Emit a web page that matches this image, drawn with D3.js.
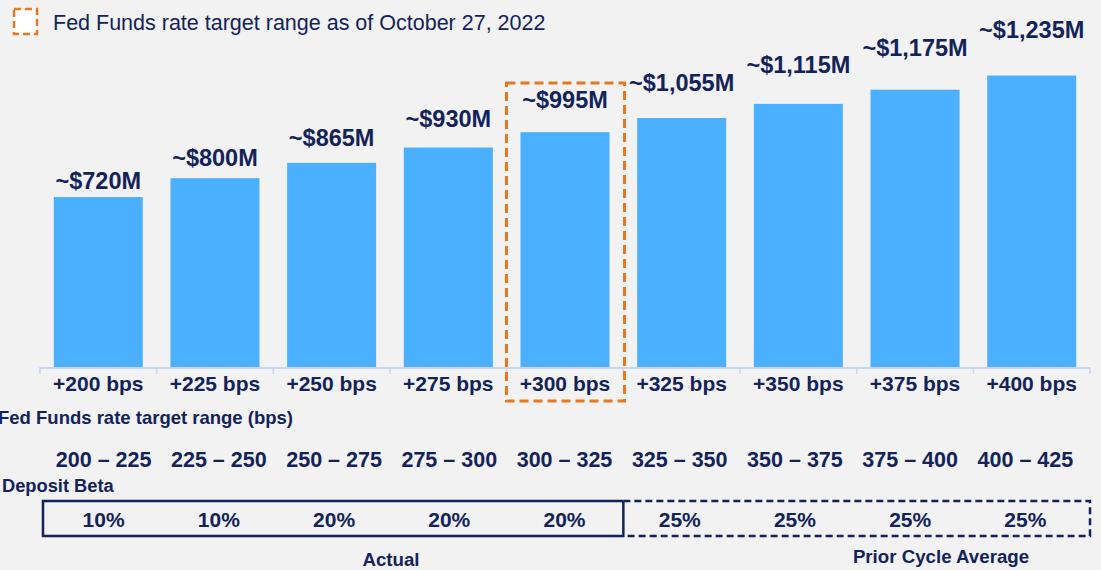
<!DOCTYPE html>
<meta charset="utf-8">
<style>
body { margin: 0; background: #f2f2f2; }
svg { display: block; font-family: Arial, "Liberation Sans", sans-serif; }
.lbl { fill: #13235a; font-weight: bold; }
</style>
<svg width="1101" height="570"></svg>
<script src="https://d3js.org/d3.v7.min.js"></script>
<script>

var hikes = ["+200 bps", "+225 bps", "+250 bps", "+275 bps", "+300 bps", "+325 bps", "+350 bps", "+375 bps", "+400 bps"];
var benefit = [720, 800, 865, 930, 995, 1055, 1115, 1175, 1235];
var ranges = ["200 – 225", "225 – 250", "250 – 275", "275 – 300", "300 – 325", "325 – 350", "350 – 375", "375 – 400", "400 – 425"];
var betas = ["10%", "10%", "20%", "20%", "20%", "25%", "25%", "25%", "25%"];
var actualCount = 5;       // first five betas are actual, the rest prior cycle average
var currentHike = "+300 bps";

var navy = "#13235a",
    orange = "#e87722",
    barColor = "#4ab0ff";

var svg = d3.select("svg");

var x = d3.scaleBand()
    .domain(hikes)
    .range([40, 1090])
    .paddingInner(0.237)
    .paddingOuter(0.118);

// rows below the chart sit a little to the right of the bars
var xRow = d3.scaleBand()
    .domain(hikes)
    .range([46, 1083]);

var y = d3.scaleLinear()
    .domain([0, 1250])
    .range([367, 72]);

// value labels climb faster than the bars do
var yLabel = d3.scaleLinear()
    .domain(d3.extent(benefit))
    .range([189, 38]);

var fmt = function(v) { return "~$" + d3.format(",")(v) + "M"; };

// bars
svg.append("g")
  .selectAll("rect")
  .data(benefit)
  .enter().append("rect")
    .attr("x", function(d, i) { return x(hikes[i]); })
    .attr("y", function(d) { return y(d); })
    .attr("width", x.bandwidth())
    .attr("height", function(d) { return y(0) - y(d); })
    .attr("fill", barColor);

svg.append("g")
  .selectAll("text")
  .data(benefit)
  .enter().append("text")
    .attr("class", "lbl")
    .attr("x", function(d, i) { return x(hikes[i]) + x.bandwidth() / 2; })
    .attr("y", function(d) { return yLabel(d); })
    .attr("text-anchor", "middle")
    .style("font-size", "23.5px")
    .text(fmt);

// axis line with ticks at band edges
var axis = svg.append("g");
axis.append("line")
    .attr("x1", 40).attr("x2", 1090)
    .attr("y1", 368).attr("y2", 368)
    .attr("stroke", "#c6d6f2").attr("stroke-width", 2);
axis.selectAll(".tk")
  .data(hikes.concat(["end"]))
  .enter().append("line")
    .attr("x1", function(d, i) { return 40 + i * x.step(); })
    .attr("x2", function(d, i) { return 40 + i * x.step(); })
    .attr("y1", 367).attr("y2", 374)
    .attr("stroke", "#c6d6f2").attr("stroke-width", 1.5);

axis.selectAll("text")
  .data(hikes)
  .enter().append("text")
    .attr("class", "lbl")
    .attr("x", function(d) { return x(d) + x.bandwidth() / 2; })
    .attr("y", 391)
    .attr("text-anchor", "middle")
    .style("font-size", "21px")
    .text(function(d) { return d; });

// highlight current range
var hx = x(currentHike);
svg.append("rect")
    .attr("x", hx - 14)
    .attr("y", 83)
    .attr("width", x.bandwidth() + 29)
    .attr("height", 318)
    .attr("fill", "none")
    .attr("stroke", orange)
    .attr("stroke-width", 3)
    .attr("stroke-dasharray", "9,5");

// legend
svg.append("rect")
    .attr("x", 14).attr("y", 9)
    .attr("width", 23).attr("height", 25)
    .attr("fill", "#fff")
    .attr("stroke", orange)
    .attr("stroke-width", 2.5)
    .attr("stroke-dasharray", "7,4");
svg.append("text")
    .attr("x", 53).attr("y", 30)
    .attr("fill", navy)
    .style("font-size", "21.5px")
    .text("Fed Funds rate target range as of October 27, 2022");

// rate range row
svg.append("text")
    .attr("class", "lbl")
    .attr("x", -2).attr("y", 424)
    .style("font-size", "18.5px")
    .text("Fed Funds rate target range (bps)");

svg.append("g")
  .selectAll("text")
  .data(ranges)
  .enter().append("text")
    .attr("class", "lbl")
    .attr("x", function(d, i) { return xRow(hikes[i]) + xRow.bandwidth() / 2; })
    .attr("y", 467)
    .attr("text-anchor", "middle")
    .style("font-size", "21.5px")
    .text(function(d) { return d; });

// deposit beta row
svg.append("text")
    .attr("class", "lbl")
    .attr("x", 2).attr("y", 492)
    .style("font-size", "18.3px")
    .text("Deposit Beta");

var split = x(hikes[actualCount]) - (x.step() - x.bandwidth()) / 2;
var boxTop = 501, boxH = 35;

svg.append("path")
    .attr("d", "M" + split + "," + boxTop + "H43V" + (boxTop + boxH) + "H" + split + "V" + boxTop)
    .attr("fill", "none")
    .attr("stroke", navy)
    .attr("stroke-width", 2.5);
svg.append("path")
    .attr("d", "M" + split + "," + boxTop + "H1090V" + (boxTop + boxH) + "H" + split)
    .attr("fill", "none")
    .attr("stroke", navy)
    .attr("stroke-width", 2.5)
    .attr("stroke-dasharray", "7,4");

svg.append("g")
  .selectAll("text")
  .data(betas)
  .enter().append("text")
    .attr("class", "lbl")
    .attr("x", function(d, i) { return xRow(hikes[i]) + xRow.bandwidth() / 2; })
    .attr("y", 527)
    .attr("text-anchor", "middle")
    .style("font-size", "21px")
    .text(function(d) { return d; });

svg.append("text")
    .attr("class", "lbl")
    .attr("x", 391).attr("y", 566)
    .attr("text-anchor", "middle")
    .style("font-size", "18.7px")
    .text("Actual");
svg.append("text")
    .attr("class", "lbl")
    .attr("x", 941).attr("y", 563)
    .attr("text-anchor", "middle")
    .style("font-size", "18.7px")
    .text("Prior Cycle Average");

</script>
